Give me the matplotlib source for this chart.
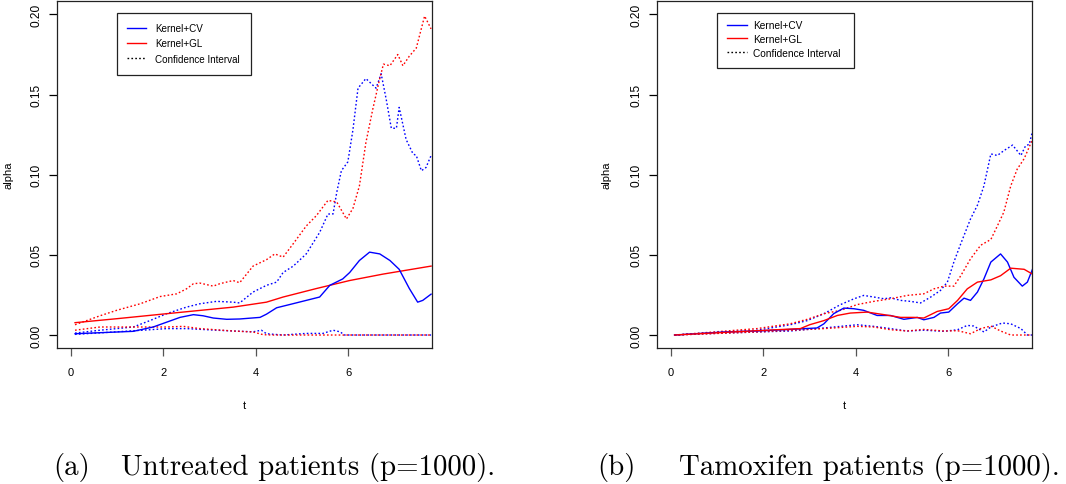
import matplotlib
matplotlib.use("Agg")
import matplotlib.pyplot as plt
from matplotlib.lines import Line2D
from matplotlib.patches import Rectangle

# ---------------- data ----------------
# (a) Untreated patients
u_cv_t = [0.09, 1.35, 1.78, 2.07, 2.36, 2.65, 2.86, 3.08, 3.37, 3.65, 4.09, 4.23, 4.45, 4.73,
          5.09, 5.38, 5.60, 5.88, 6.03, 6.24, 6.46, 6.68, 6.90, 7.10, 7.32, 7.50, 7.61, 7.79]
u_cv_a = [0.0008, 0.0023, 0.005, 0.008, 0.011, 0.0127, 0.012, 0.0106, 0.0098, 0.010, 0.011,
          0.013, 0.017, 0.019, 0.0216, 0.0237, 0.031, 0.035, 0.039, 0.0465, 0.0517, 0.0506,
          0.0465, 0.041, 0.029, 0.0205, 0.0216, 0.0255]
u_gl_t = [0.09, 1.00, 2.07, 3.51, 4.23, 4.59, 5.31, 6.03, 6.75, 7.79]
u_gl_a = [0.0077, 0.0102, 0.0133, 0.0174, 0.0205, 0.0237, 0.029, 0.034, 0.038, 0.043]
u_gl_up_t = [0.09, 0.63, 0.99, 1.50, 1.93, 2.29, 2.50, 2.65, 2.79, 3.08, 3.22, 3.51, 3.65, 3.94,
             4.23, 4.41, 4.59, 4.81, 5.09, 5.31, 5.56, 5.75, 5.96, 6.10, 6.24, 6.38, 6.53, 6.68,
             6.76, 6.90, 7.07, 7.18, 7.32, 7.47, 7.65, 7.79]
u_gl_up_a = [0.0064, 0.012, 0.0154, 0.0195, 0.024, 0.0257, 0.0288, 0.032, 0.0324, 0.0305, 0.032,
             0.034, 0.0326, 0.043, 0.047, 0.0506, 0.0486, 0.057, 0.068, 0.0745, 0.084, 0.083,
             0.0724, 0.079, 0.093, 0.120, 0.141, 0.160, 0.169, 0.168, 0.175, 0.168, 0.174, 0.179,
             0.199, 0.191]
u_cv_up_t = [0.09, 0.63, 1.35, 1.71, 2.07, 2.50, 2.79, 3.15, 3.51, 3.65, 3.94, 4.23, 4.45, 4.59,
             4.81, 5.09, 5.38, 5.56, 5.67, 5.75, 5.85, 5.99, 6.10, 6.21, 6.38, 6.60, 6.71, 6.82,
             6.93, 7.04, 7.10, 7.25, 7.40, 7.47, 7.58, 7.68, 7.79]
u_cv_up_a = [0.0012, 0.003, 0.005, 0.009, 0.0133, 0.0174, 0.0195, 0.021, 0.0205, 0.020, 0.0268,
             0.031, 0.033, 0.039, 0.043, 0.0506, 0.064, 0.0755, 0.0755, 0.089, 0.1025, 0.108,
             0.128, 0.154, 0.160, 0.154, 0.163, 0.147, 0.129, 0.129, 0.142, 0.122, 0.113, 0.112,
             0.1025, 0.1045, 0.112]
u_gl_lo_t = [0.09, 0.63, 1.35, 2.07, 2.43, 2.79, 3.51, 3.94, 4.16, 4.37, 7.79]
u_gl_lo_a = [0.003, 0.005, 0.005, 0.005, 0.0054, 0.004, 0.0025, 0.0019, 0.0002, 0.0, 0.0]
u_cv_lo_t = [0.09, 0.99, 1.71, 2.07, 2.50, 3.15, 3.51, 3.94, 4.12, 4.23, 4.59, 5.09, 5.45, 5.67,
             5.82, 5.92, 7.79]
u_cv_lo_a = [0.0004, 0.002, 0.0033, 0.004, 0.004, 0.003, 0.0025, 0.002, 0.003, 0.0008, 0.0,
             0.001, 0.001, 0.003, 0.002, 0.0, 0.0]

# (b) Tamoxifen patients
t_cv_t = [0.08, 1.14, 1.86, 2.58, 3.16, 3.31, 3.52, 3.74, 3.96, 4.17, 4.46, 4.75, 5.04, 5.33,
          5.47, 5.69, 5.83, 6.01, 6.20, 6.34, 6.48, 6.63, 6.77, 6.92, 7.13, 7.28, 7.42, 7.60,
          7.71, 7.82]
t_cv_a = [0.0, 0.0019, 0.0025, 0.0035, 0.0044, 0.007, 0.0133, 0.0168, 0.0164, 0.0154, 0.0122,
          0.0122, 0.0098, 0.011, 0.0095, 0.011, 0.0137, 0.0143, 0.0195, 0.023, 0.0216, 0.0268,
          0.035, 0.0455, 0.0506, 0.0455, 0.036, 0.0305, 0.033, 0.041]
t_gl_t = [0.08, 1.86, 2.80, 3.00, 3.31, 3.60, 3.88, 4.25, 4.61, 4.97, 5.26, 5.47, 5.76, 6.01,
          6.20, 6.41, 6.63, 6.92, 7.13, 7.35, 7.64, 7.82]
t_gl_a = [0.0, 0.0027, 0.004, 0.0064, 0.009, 0.0122, 0.0137, 0.0143, 0.0127, 0.011, 0.011,
          0.0106, 0.0147, 0.0164, 0.0216, 0.0288, 0.033, 0.0344, 0.037, 0.0417, 0.041, 0.038]
t_cv_up_t = [0.08, 1.14, 1.86, 2.58, 2.95, 3.31, 3.67, 3.96, 4.17, 4.39, 4.61, 4.75, 4.97, 5.18,
             5.40, 5.62, 5.83, 5.98, 6.12, 6.27, 6.48, 6.63, 6.77, 6.92, 7.06, 7.20, 7.39, 7.57,
             7.67, 7.75, 7.82]
t_cv_up_a = [0.0, 0.0019, 0.003, 0.0064, 0.009, 0.0133, 0.019, 0.0226, 0.0247, 0.0237, 0.0226,
             0.0232, 0.0216, 0.021, 0.020, 0.0237, 0.0278, 0.033, 0.0455, 0.057, 0.0724, 0.081,
             0.093, 0.113, 0.112, 0.115, 0.1185, 0.112, 0.118, 0.119, 0.127]
t_gl_up_t = [0.08, 1.86, 2.58, 2.95, 3.31, 3.67, 4.03, 4.39, 4.75, 5.11, 5.47, 5.69, 5.91, 6.12,
             6.27, 6.48, 6.70, 6.92, 7.06, 7.20, 7.35, 7.49, 7.64, 7.82]
t_gl_up_a = [0.0, 0.004, 0.007, 0.0098, 0.0133, 0.0154, 0.019, 0.021, 0.0226, 0.0247, 0.0257,
             0.0288, 0.0305, 0.0305, 0.037, 0.0475, 0.056, 0.0596, 0.068, 0.0766, 0.093, 0.1035,
             0.110, 0.122]
t_cv_lo_t = [0.08, 1.14, 1.86, 2.58, 3.31, 4.03, 4.39, 4.75, 5.11, 5.47, 5.91, 6.20, 6.41, 6.55,
             6.77, 6.92, 7.17, 7.35, 7.57, 7.71, 7.82]
t_cv_lo_a = [0.0, 0.0012, 0.0019, 0.0025, 0.0044, 0.0064, 0.0054, 0.004, 0.0025, 0.003, 0.0023,
             0.0033, 0.006, 0.0056, 0.0019, 0.005, 0.0075, 0.007, 0.004, 0.0, 0.0]
t_gl_lo_t = [0.08, 1.86, 3.31, 4.03, 4.39, 4.75, 5.11, 5.47, 5.91, 6.20, 6.48, 6.70, 6.92, 7.13,
             7.35, 7.82]
t_gl_lo_a = [0.0, 0.0019, 0.004, 0.0054, 0.005, 0.0033, 0.0025, 0.0035, 0.0025, 0.0027, 0.0008,
             0.004, 0.0056, 0.0025, 0.0, 0.0]

x_ticks = [0, 2, 4, 6]
y_ticks = [0.00, 0.05, 0.10, 0.15, 0.20]
y_tick_labels = ["0.00", "0.05", "0.10", "0.15", "0.20"]
legend_labels = ["Kernel+CV", "Kernel+GL", "Confidence Interval"]
x_label = "t"
y_label = "alpha"
captions = [("(a)", "Untreated patients (p=1000)."), ("(b)", "Tamoxifen patients (p=1000).")]

# ---------------- style ----------------
plt.rcParams["font.family"] = ["Liberation Sans", "DejaVu Sans"]
SERIF = ["cmr10", "DejaVu Serif"]

W, H = 1066, 485
fig = plt.figure(figsize=(W / 100, H / 100), dpi=100)

BLUE = "#0000ff"
RED = "#ff0000"
DOT = (0, (1.2, 1.6))
LW = 1.0


def fx(px):
    return px / W


def fy(py):
    return 1 - py / H


panels = [
    dict(x0=57, x1=432, series=[
        (u_cv_up_t, u_cv_up_a, BLUE, DOT), (u_gl_up_t, u_gl_up_a, RED, DOT),
        (u_cv_lo_t, u_cv_lo_a, BLUE, DOT), (u_gl_lo_t, u_gl_lo_a, RED, DOT),
        (u_gl_t, u_gl_a, RED, "-"), (u_cv_t, u_cv_a, BLUE, "-")],
         leg=dict(box=(117, 14, 251, 76), hx=127, row1=29, fs=7.1, pitch=15.5, htp=9, hl=19),
         ylab_x=13, cap_x=(53, 121)),
    dict(x0=657, x1=1032, series=[
        (t_cv_up_t, t_cv_up_a, BLUE, DOT), (t_gl_up_t, t_gl_up_a, RED, DOT),
        (t_cv_lo_t, t_cv_lo_a, BLUE, DOT), (t_gl_lo_t, t_gl_lo_a, RED, DOT),
        (t_cv_t, t_cv_a, BLUE, "-"), (t_gl_t, t_gl_a, RED, "-")],
         leg=dict(box=(717, 14, 854, 69), hx=727, row1=26.5, fs=7.3, pitch=14, htp=6, hl=20),
         ylab_x=612, cap_x=(597, 679)),
]

top_px, bot_px = 1.5, 349
for i, p in enumerate(panels):
    ax = fig.add_axes([fx(p["x0"]), fy(bot_px), fx(p["x1"] - p["x0"]), (bot_px - top_px) / H])
    for t, a, c, ls in p["series"]:
        ax.plot(t, a, color=c, linestyle=ls, lw=LW)
    ax.set_xlim(-0.3, 7.81)
    ax.set_ylim(-0.0081, 0.2087)
    ax.set_xticks(x_ticks)
    ax.set_xticklabels([str(v) for v in x_ticks], fontsize=8)
    ax.set_yticks(y_ticks)
    ax.set_yticklabels(y_tick_labels, fontsize=8.6, rotation=90, va="center")
    ax.tick_params(axis="x", length=6, width=0.9, pad=8, color="#555555")
    ax.tick_params(axis="y", length=5.5, width=0.9, pad=5)
    for s in ax.spines.values():
        s.set_linewidth(0.9)
        s.set_color("#222222")
    ax.set_xlabel(x_label, fontsize=8)
    ax.xaxis.set_label_coords(0.5, -(401 - bot_px) / (bot_px - top_px), transform=ax.transAxes)
    ax.set_ylabel(y_label, fontsize=8)
    ax.yaxis.set_label_coords((p["ylab_x"] - p["x0"]) / (p["x1"] - p["x0"]), 0.5)

    # legend (content without frame; frame drawn as a rectangle at the reference position)
    L = p["leg"]
    em = L["fs"] * 100 / 72
    text_h = 1.02 * em
    handles = [Line2D([], [], color=BLUE, lw=LW), Line2D([], [], color=RED, lw=LW),
               Line2D([], [], color="black", lw=LW, linestyle=DOT)]
    ax.legend(handles, legend_labels, loc="upper left",
              bbox_to_anchor=(fx(L["hx"]), fy(L["row1"] - text_h / 2)),
              bbox_transform=fig.transFigure,
              borderaxespad=0, borderpad=0, fontsize=L["fs"], frameon=False,
              handlelength=L["hl"] / em, handletextpad=L["htp"] / em,
              labelspacing=max(L["pitch"] - text_h, 0) / em)
    bx0, by0, bx1, by1 = L["box"]
    fig.add_artist(Rectangle((fx(bx0), fy(by1)), fx(bx1 - bx0), (by1 - by0) / H,
                             transform=fig.transFigure, fill=False, ec="#222222", lw=0.9,
                             zorder=5))

    # caption
    fig.text(fx(p["cap_x"][0]), fy(475), captions[i][0], family=SERIF,
             fontsize=20.8, va="baseline", ha="left")
    fig.text(fx(p["cap_x"][1]), fy(475), captions[i][1], family=SERIF,
             fontsize=20.8, va="baseline", ha="left")

fig.savefig("out.png", dpi=100)
